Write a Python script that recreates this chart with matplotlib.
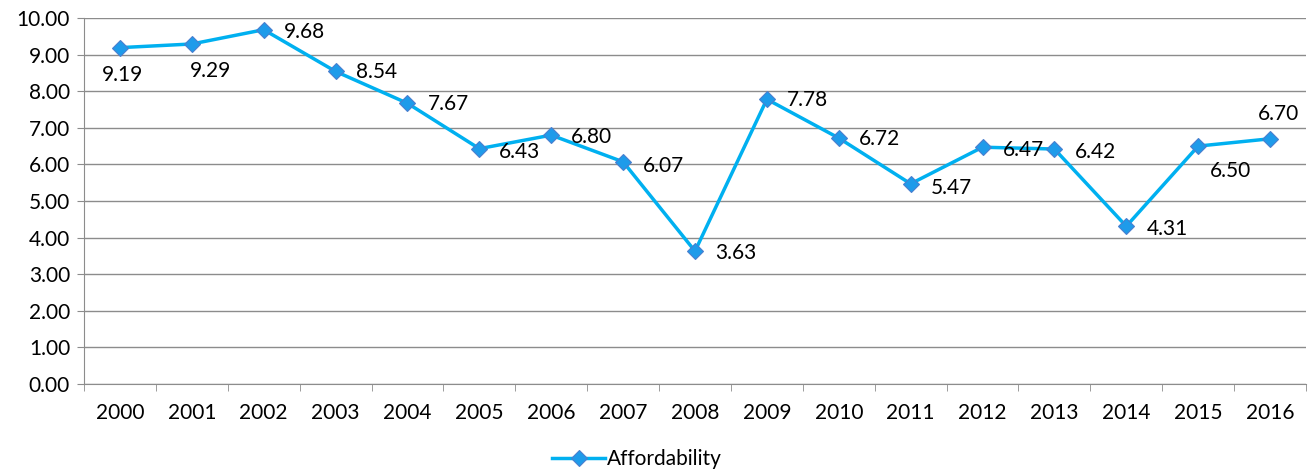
import matplotlib.pyplot as plt
from matplotlib.ticker import FormatStrFormatter, MultipleLocator

years = ['2000', '2001', '2002', '2003', '2004', '2005', '2006', '2007', '2008',
         '2009', '2010', '2011', '2012', '2013', '2014', '2015', '2016']
affordability = [9.19, 9.29, 9.68, 8.54, 7.67, 6.43, 6.80, 6.07, 3.63,
                 7.78, 6.72, 5.47, 6.47, 6.42, 4.31, 6.50, 6.70]

# label offsets in pixels (dx, dy), ha
label_pos = [(3, -27, 'center'), (19, -27, 'center'), (20, -2, 'left'), (20, -1, 'left'),
             (20, -1, 'left'), (20, -3, 'left'), (20, -2, 'left'), (20, -4, 'left'),
             (20, -2, 'left'), (20, -1, 'left'), (20, -1, 'left'), (20, -4, 'left'),
             (20, -3, 'left'), (20, -3, 'left'), (20, -3, 'left'), (32, -25, 'center'),
             (8, 25, 'center')]

plt.rcParams['font.family'] = ['Lato', 'DejaVu Sans']
fs = 15

fig = plt.figure(figsize=(13.14, 4.73), dpi=100)
ax = fig.add_axes([84 / 1314, 1 - 384 / 473, 1222 / 1314, 366 / 473])

x = list(range(len(years)))
line, = ax.plot(x, affordability, color='#00B0F0', lw=2.5, marker='D', markersize=8,
                markerfacecolor='#1E9BEA', markeredgecolor='#4A7FCF', markeredgewidth=0.8,
                label='Affordability', zorder=3)

for i, v in enumerate(affordability):
    dx, dy, ha = label_pos[i]
    ax.annotate('%.2f' % v, (i, v), xytext=(dx * 0.72, dy * 0.72), textcoords='offset points',
                ha=ha, va='center', fontsize=fs, color='#000000')

ax.set_xlim(-0.5, len(years) - 0.5)
ax.set_ylim(0, 10)
ax.yaxis.set_major_locator(MultipleLocator(1))
ax.yaxis.set_major_formatter(FormatStrFormatter('%.2f'))
ax.grid(axis='y', color='#8C8C8C', lw=1)
ax.set_axisbelow(True)

ax.set_xticks(x)
ax.set_xticklabels(years)
ax.set_xticks([i - 0.5 for i in range(len(years) + 1)], minor=True)
ax.tick_params(axis='x', which='major', length=0, pad=14, labelsize=fs)
ax.tick_params(axis='x', which='minor', length=5, color='#8C8C8C')
ax.tick_params(axis='y', length=5, color='#8C8C8C', labelsize=fs, pad=5)

for s in ['top', 'right']:
    ax.spines[s].set_visible(False)
ax.spines['left'].set_color('#8C8C8C')
ax.spines['bottom'].set_color('#8C8C8C')

fig.legend(handles=[line], loc='center', bbox_to_anchor=(637 / 1314, 1 - 459 / 473),
           frameon=False, fontsize=fs, handlelength=2.5, handletextpad=0.1)

fig.savefig('out.png', dpi=100)
